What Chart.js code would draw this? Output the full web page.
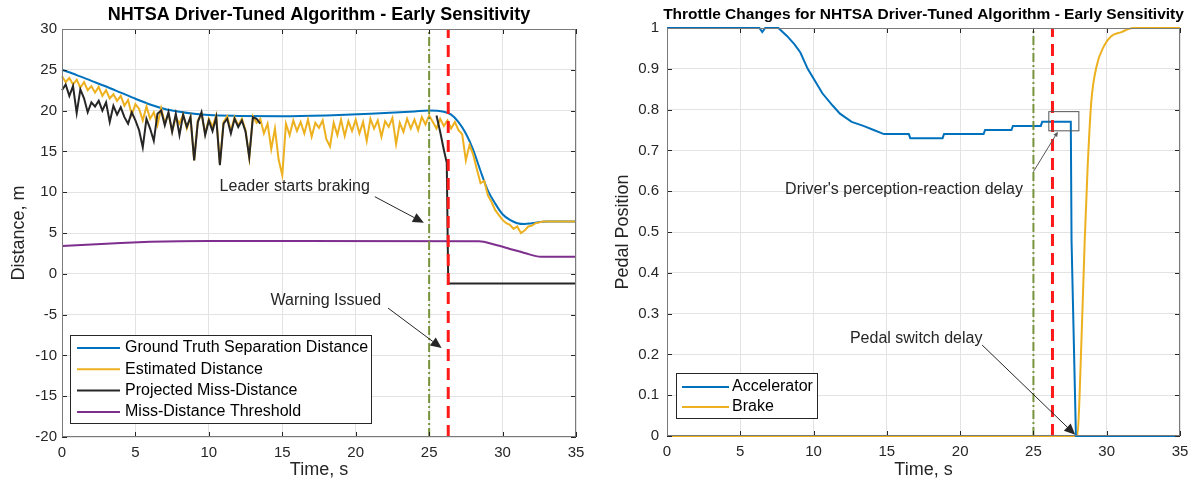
<!DOCTYPE html>
<html>
<head>
<meta charset="utf-8">
<script src="https://cdn.jsdelivr.net/npm/chart.js@4.4.0/dist/chart.umd.min.js"></script>
<style>
  html, body { margin: 0; padding: 0; background: #fff; }
  #wrap { position: relative; width: 1199px; height: 491px; }
  #left { position: absolute; left: 0; top: 0; width: 600px; height: 491px; }
  #right { position: absolute; left: 600px; top: 0; width: 599px; height: 491px; }
</style>
</head>
<body>
<div id="wrap">
  <canvas id="left" width="600" height="491"></canvas>
  <canvas id="right" width="599" height="491"></canvas>
</div>
<script>
// ---- left chart data (distance, m) ----
const groundT = [0, 1, 2, 3, 4, 5, 6, 7, 8, 9, 10, 12, 15, 18, 21, 24, 25, 26, 26.5, 27, 27.5, 28, 28.5, 29, 29.5, 30, 30.5, 31, 31.5, 32, 33, 35];
const groundDist = [25, 24.35, 23.65, 22.95, 22.2, 21.45, 20.75, 20.2, 19.85, 19.6, 19.45, 19.35, 19.3, 19.4, 19.6, 19.9, 20.0, 19.85, 19.5, 18.6, 17.2, 15.2, 12.6, 10.2, 8.6, 7.3, 6.6, 6.2, 6.1, 6.2, 6.4, 6.4];

// sampled every 0.25 s, 0 .. 35
const estStep = 0.25;
const estimatedDist = [
  24.2, 23.5, 24.0, 23.2, 23.8, 22.8, 23.5, 22.5, 23.0,
  22.2, 22.9, 21.8, 22.5, 21.5, 22.0, 21.2, 21.8,
  20.6, 21.3, 19.5, 20.8, 20.2, 18.8, 20.5, 19.0,
  19.8, 18.2, 20.3, 18.5, 19.6, 17.5, 19.2, 18.4,
  19.5, 17.8, 19.2, 13.9, 18.8, 19.6, 17.2, 19.0,
  18.0, 19.4, 13.5, 18.6, 19.3, 17.5, 19.2, 18.2,
  19.0, 17.6, 14.2, 19.3, 18.5, 19.0, 17.2, 18.4,
  15.3, 17.8, 14.0, 12.1, 18.4, 17.0, 18.8, 17.5,
  18.6, 17.2, 18.9, 16.8, 18.5, 17.9, 18.8, 16.5,
  15.6, 18.5, 17.0, 18.9, 16.9, 18.7, 17.5, 18.9,
  17.2, 18.6, 16.3, 19.0, 17.8, 18.8, 16.8, 18.7,
  18.0, 19.1, 15.9, 18.5, 17.4, 19.0, 17.8, 18.9,
  17.6, 19.2, 18.3, 19.4, 18.6, 17.8, 19.0, 18.1,
  18.8, 17.8, 18.6, 17.6, 17.1, 13.9, 15.8, 14.6,
  12.8, 11.1, 11.4, 9.6, 8.8, 7.8, 7.2, 6.6,
  6.2, 6.0, 5.5, 5.8, 5.0, 5.3, 5.8, 5.9,
  6.2, 6.3, 6.4, 6.4, 6.4, 6.4, 6.4, 6.4, 6.4, 6.4, 6.4, 6.4
];

// projected miss-distance, every 0.25 s from 0 to 13.5 s, then the late part
const projEarly = [
  22.5, 23.2, 21.8, 23.0, 19.7, 22.6, 21.5, 19.8, 21.0,
  20.5, 21.2, 20.0, 21.0, 18.6, 20.6, 19.5, 20.4,
  19.2, 18.4, 19.8, 18.8, 17.6, 15.5, 19.0, 17.8,
  16.3, 19.6, 20.0, 18.2, 19.8, 17.4, 19.6, 17.0,
  19.5, 18.0, 19.2, 13.9, 18.6, 19.8, 17.0, 18.8,
  17.5, 19.2, 13.3, 18.4, 19.0, 17.2, 19.0, 18.0,
  18.8, 17.4, 14.3, 19.2, 19.0, 18.4
];
const projLateT = [13.75, 25.5, 25.75, 26.0, 26.1, 26.2, 26.3, 35];
const projLate = [null, 19.4, 17.4, 15.2, 14.4, 13.6, -1.2, -1.2];

const threshT = [0, 2, 4, 6, 8, 10, 28.4, 29.5, 30.5, 31.5, 32.6, 35];
const threshDist = [3.4, 3.6, 3.78, 3.92, 4.0, 4.02, 4.0, 3.55, 3.05, 2.55, 2.1, 2.1];

// ---- right chart data (pedal position) ----
const accelT = [0, 6.3, 6.5, 6.7, 7.6, 8.2, 8.7, 9.1, 9.6, 10.1, 10.6, 11.3, 11.8, 12.6, 13.4, 14.1, 14.8, 16.5, 16.6, 18.8, 18.9, 21.6, 21.7, 23.5, 23.6, 25.5, 25.6, 27.55, 27.6, 27.9, 35];
const accelPos = [1, 1, 0.99, 1, 1, 0.98, 0.96, 0.94, 0.90, 0.87, 0.84, 0.81, 0.79, 0.77, 0.76, 0.75, 0.74, 0.74, 0.73, 0.73, 0.74, 0.74, 0.75, 0.75, 0.76, 0.76, 0.77, 0.77, 0.48, 0, 0];
const brakeT = [0, 28.0, 28.15, 28.5, 28.7, 28.95, 29.3, 29.8, 30.3, 31.0, 31.8, 35];
const brakePos = [0, 0, 0.1, 0.48, 0.66, 0.82, 0.905, 0.955, 0.98, 0.99, 1, 1];

// event markers, s
const leaderBrakeT = 25;
const warningT = 26.3;

const FONT = '"Liberation Sans", Arial, Helvetica, sans-serif';
const COL = { blue: '#0072BD', orange: '#EDB120', black: '#262626', purple: '#7E2F8E', green: '#77933C', red: '#FF1A1A' };

function pts(ts, vs) { return ts.map((t, i) => ({ x: t, y: vs[i] })); }
function stepTimes(n, step) { return Array.from({ length: n }, (_, i) => +(i * step).toFixed(2)); }

function line(label, data, color, extra) {
  return Object.assign({ label, data, borderColor: color, backgroundColor: color, borderWidth: 2,
    pointRadius: 0, tension: 0, fill: false, spanGaps: false, clip: 3 }, extra || {});
}
function vline(xv, lo, hi, color, dash, width) {
  return line('', [{ x: xv, y: lo }, { x: xv, y: hi }], color, { borderDash: dash, borderWidth: width, legend: false, clip: 0 });
}

function drawArrow(ctx, x1, y1, x2, y2, color, head) {
  ctx.strokeStyle = color; ctx.fillStyle = color; ctx.lineWidth = 1;
  const a = Math.atan2(y2 - y1, x2 - x1);
  const hl = head, hw = head * 0.45;
  const bx = x2 - hl * Math.cos(a), by = y2 - hl * Math.sin(a);
  ctx.beginPath(); ctx.moveTo(x1, y1); ctx.lineTo(bx, by); ctx.stroke();
  ctx.beginPath();
  ctx.moveTo(x2, y2);
  ctx.lineTo(bx + hw * Math.sin(a), by - hw * Math.cos(a));
  ctx.lineTo(bx - hw * Math.sin(a), by + hw * Math.cos(a));
  ctx.closePath(); ctx.fill();
}

function makeFrame(cfg) {
  return {
    id: 'frame',
    afterDatasetsDraw(chart) {
      const { ctx, chartArea: ca, scales: { x, y } } = chart;
      ctx.save();
      // inner tick marks
      ctx.strokeStyle = '#262626'; ctx.lineWidth = 1;
      ctx.beginPath();
      x.ticks.forEach(t => {
        const px = Math.round(x.getPixelForValue(t.value)) + 0.5;
        ctx.moveTo(px, ca.bottom); ctx.lineTo(px, ca.bottom - 5);
        ctx.moveTo(px, ca.top); ctx.lineTo(px, ca.top + 5);
      });
      y.ticks.forEach(t => {
        const py = Math.round(y.getPixelForValue(t.value)) + 0.5;
        ctx.moveTo(ca.left, py); ctx.lineTo(ca.left + 5, py);
        ctx.moveTo(ca.right, py); ctx.lineTo(ca.right - 5, py);
      });
      ctx.stroke();
      ctx.strokeStyle = '#7a7a7a';
      ctx.strokeRect(Math.round(ca.left) + 0.5, Math.round(ca.top) + 0.5, Math.round(ca.width) - 1, Math.round(ca.height) - 1);

      // title
      ctx.fillStyle = '#000'; ctx.textAlign = 'center'; ctx.textBaseline = 'middle';
      ctx.font = 'bold ' + cfg.titleSize + 'px ' + FONT;
      ctx.fillText(cfg.title, (ca.left + ca.right) / 2, cfg.titleY);

      // annotation boxes, arrows, notes
      (cfg.boxes || []).forEach(b => {
        const x1 = x.getPixelForValue(b[0]), x2 = x.getPixelForValue(b[1]);
        const y1 = y.getPixelForValue(b[2]), y2 = y.getPixelForValue(b[3]);
        ctx.strokeStyle = '#555'; ctx.lineWidth = 1;
        ctx.strokeRect(x1, y2, x2 - x1, y1 - y2);
      });
      (cfg.arrows || []).forEach(a => drawArrow(ctx,
        x.getPixelForValue(a.from[0]), y.getPixelForValue(a.from[1]),
        x.getPixelForValue(a.to[0]), y.getPixelForValue(a.to[1]), a.color, a.head));
      ctx.font = '16px ' + FONT; ctx.fillStyle = '#262626';
      (cfg.notes || []).forEach(n => ctx.fillText(n.text, x.getPixelForValue(n.at[0]), y.getPixelForValue(n.at[1])));

      // legend box
      const L = cfg.legend;
      ctx.fillStyle = '#fff'; ctx.fillRect(L.x, L.y, L.w, L.h);
      ctx.strokeStyle = '#262626'; ctx.lineWidth = 1;
      ctx.strokeRect(L.x + 0.5, L.y + 0.5, L.w, L.h);
      ctx.font = '16px ' + FONT; ctx.textAlign = 'left'; ctx.textBaseline = 'middle';
      chart.data.datasets.filter(d => d.legend !== false).forEach((d, i) => {
        const yy = L.y + L.first + i * L.gap;
        ctx.strokeStyle = d.borderColor; ctx.lineWidth = 2;
        ctx.beginPath(); ctx.moveTo(L.x + L.l0, yy); ctx.lineTo(L.x + L.l1, yy); ctx.stroke();
        ctx.fillStyle = '#000';
        ctx.fillText(d.label, L.x + L.tx, yy);
      });
      ctx.restore();
    }
  };
}

function scales(xOpt, yOpt) {
  const tick = { font: { family: FONT, size: 15 }, color: '#262626' };
  const grid = { color: '#e3e3e3', lineWidth: 1, drawTicks: false };
  return {
    x: {
      type: 'linear', min: 0, max: 35,
      ticks: Object.assign({ stepSize: 5, padding: 7 }, tick),
      grid, border: { display: false },
      title: { display: true, text: 'Time, s', color: '#262626', font: { family: FONT, size: 18 }, padding: { top: 0, bottom: xOpt.titlePad } },
      afterFit(s) { s.height = xOpt.height; }
    },
    y: {
      type: 'linear', min: yOpt.min, max: yOpt.max,
      ticks: Object.assign({ stepSize: yOpt.step, padding: yOpt.tickPad, callback: v => +v.toFixed(1) }, tick),
      grid, border: { display: false },
      title: { display: true, text: yOpt.title, color: '#262626', font: { family: FONT, size: 18 }, padding: { top: yOpt.titlePad, bottom: 0 } },
      afterFit(s) { s.width = yOpt.width; }
    }
  };
}

// ---- left chart ----
const estT = stepTimes(estimatedDist.length, estStep);
const projT = stepTimes(projEarly.length, estStep);

const leftSets = [
  line('Ground Truth Separation Distance', pts(groundT, groundDist), COL.blue, { cubicInterpolationMode: 'monotone', order: 4 }),
  line('Estimated Distance', pts(estT, estimatedDist), COL.orange, { order: 3 }),
  line('Projected Miss-Distance', pts(projT, projEarly).concat(pts(projLateT, projLate)), COL.black, { order: 2 }),
  line('Miss-Distance Threshold', pts(threshT, threshDist), COL.purple, { cubicInterpolationMode: 'monotone', order: 1 }),
  vline(leaderBrakeT, -20, 30, COL.green, [9, 3, 2, 3], 2),
  vline(warningT, -20, 30, COL.red, [12, 7], 3)
];
leftSets[4].order = 0; leftSets[5].order = 0;

new Chart(document.getElementById('left'), {
  type: 'line',
  data: { datasets: leftSets },
  options: {
    responsive: false, animation: false, events: [],
    layout: { padding: { top: 29, right: 24, bottom: 0, left: 0 } },
    plugins: { legend: { display: false }, tooltip: { enabled: false } },
    scales: scales({ height: 54, titlePad: 10 }, { min: -20, max: 30, step: 5, title: 'Distance, m', width: 62, tickPad: 5, titlePad: 8 })
  },
  plugins: [makeFrame({
    title: 'NHTSA Driver-Tuned Algorithm - Early Sensitivity', titleSize: 18, titleY: 15,
    notes: [
      { text: 'Leader starts braking', at: [15.85, 10.67] },
      { text: 'Warning Issued', at: [17.97, -3.3] }
    ],
    arrows: [
      { from: [21.3, 9.45], to: [24.64, 6.26], color: '#262626', head: 11 },
      { from: [22.2, -4.2], to: [25.85, -9.1], color: '#262626', head: 11 }
    ],
    legend: { x: 70, y: 335, w: 301, h: 88, first: 13, gap: 21.3, l0: 7, l1: 50, tx: 55 }
  })]
});

// ---- right chart ----
const rightSets = [
  line('Accelerator', pts(accelT, accelPos), COL.blue, { order: 1 }),
  line('Brake', pts(brakeT, brakePos), COL.orange, { cubicInterpolationMode: 'monotone', order: 2 }),
  vline(leaderBrakeT, 0, 1, COL.green, [9, 3, 2, 3], 2),
  vline(warningT, 0, 1, COL.red, [12, 7], 3)
];
rightSets[2].order = 0; rightSets[3].order = 0;

new Chart(document.getElementById('right'), {
  type: 'line',
  data: { datasets: rightSets },
  options: {
    responsive: false, animation: false, events: [],
    layout: { padding: { top: 28, right: 19, bottom: 0, left: 0 } },
    plugins: { legend: { display: false }, tooltip: { enabled: false } },
    scales: scales({ height: 55, titlePad: 10 }, { min: 0, max: 1, step: 0.1, title: 'Pedal Position', width: 67, tickPad: 8, titlePad: 12 })
  },
  plugins: [makeFrame({
    title: 'Throttle Changes for NHTSA Driver-Tuned Algorithm - Early Sensitivity', titleSize: 15.5, titleY: 15,
    notes: [
      { text: "Driver's perception-reaction delay", at: [16.17, 0.603] },
      { text: 'Pedal switch delay', at: [17.0, 0.239] }
    ],
    arrows: [
      { from: [25.0, 0.648], to: [26.67, 0.746], color: '#555', head: 5 },
      { from: [21.5, 0.223], to: [27.85, 0.003], color: '#262626', head: 11 }
    ],
    boxes: [[26.05, 28.1, 0.748, 0.795]],
    legend: { x: 76, y: 373, w: 141, h: 45, first: 14, gap: 20, l0: 6, l1: 53, tx: 56 }
  })]
});
</script>
</body>
</html>
